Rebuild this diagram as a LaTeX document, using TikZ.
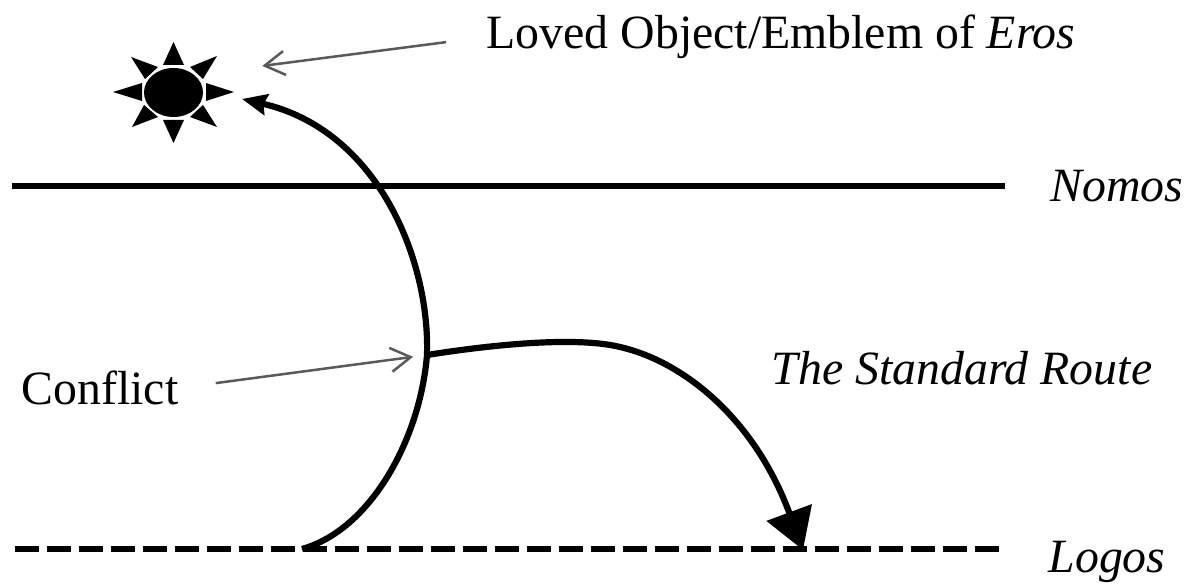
\documentclass[tikz,border=0pt]{standalone}
\usepackage{fontspec}
\setmainfont{Liberation Serif}
\usetikzlibrary{arrows.meta, shapes.geometric}
\tikzset{
    label text/.style={font=\fontsize{13.6}{16}\selectfont, inner sep=0pt},
    route/.style={black, line width=0.062cm},
    pointer/.style={-{Straight Barb[length=0.2cm, width=0.24cm, line width=0.025cm]}, gray!70!black, line width=0.025cm},
}
\begin{document}
\begin{tikzpicture}[scale=1.0]
                \useasboundingbox (0,0) rectangle (11.95,5.86);
                % Labels
                \node[label text] (loved) at (7.81,5.49) {Loved Object/Emblem of \textit{Eros}};
                \node[label text] (nomos) at (11.17,4.00) {\textit{Nomos}};
                \node[label text] (standard) at (9.62,2.18) {\textit{The Standard Route}};
                \node[label text] (conflict) at (1.00,1.98) {Conflict};
                \node[label text] (logos) at (11.07,0.24) {\textit{Logos}};
                % Sun
                \node[ellipse, fill=black, minimum width=0.59cm, minimum height=0.49cm, inner sep=0pt] (sun) at (1.735,4.935) {};
                \foreach \tx/\ty/\ax/\ay/\bx/\by in {1.735/5.44/1.63/5.21/1.84/5.21, 1.735/4.43/1.63/4.66/1.84/4.66,
                    2.34/4.94/2.06/5.03/2.06/4.85, 1.13/4.94/1.42/5.03/1.42/4.85,
                    2.17/5.30/1.90/5.19/2.03/5.07, 1.31/5.29/1.58/5.19/1.45/5.07,
                    2.17/4.59/2.03/4.81/1.90/4.69, 1.32/4.59/1.44/4.81/1.58/4.69}
                    \fill[black] (\tx,\ty) -- (\ax,\ay) -- (\bx,\by) -- cycle;
                % Levels
                \coordinate (nomosstart) at (0.12,4.00);
                \coordinate (nomosend) at (10.05,4.00);
                \coordinate (logosstart) at (0.15,0.37);
                \coordinate (logosend) at (10.05,0.37);
                \draw[black, line width=0.06cm] (nomosstart) -- (nomosend);
                \draw[black, line width=0.06cm, dash pattern=on 0.24cm off 0.08cm] (logosstart) -- (logosend);
                % Routes
                \coordinate (turn) at (4.27,2.31);
                \coordinate (landing) at (8.03,0.36);
                \coordinate (rise) at (3.02,0.37);
                \coordinate (peak) at (2.42,4.87);
                \draw[route, -{Stealth[length=0.25cm, width=0.21cm, inset=0.03cm]}] (rise)
                    .. controls (3.70,0.56) and (4.20,1.46) .. (turn)
                    .. controls (4.30,3.26) and (3.78,4.56) .. (peak);
                \draw[route, -{Triangle[length=0.40cm, width=0.47cm]}] (turn)
                    .. controls (4.90,2.41) and (5.75,2.50) .. (6.20,2.39)
                    .. controls (6.85,2.24) and (7.55,1.66) .. (landing);
                % Pointers
                \draw[pointer, shorten <=0.40cm, shorten >=0.68cm] (loved.west) -- (sun.north east);
                \draw[pointer, shorten <=0.37cm, shorten >=0.14cm] (conflict.east) -- (turn);
            \end{tikzpicture}
\end{document}
